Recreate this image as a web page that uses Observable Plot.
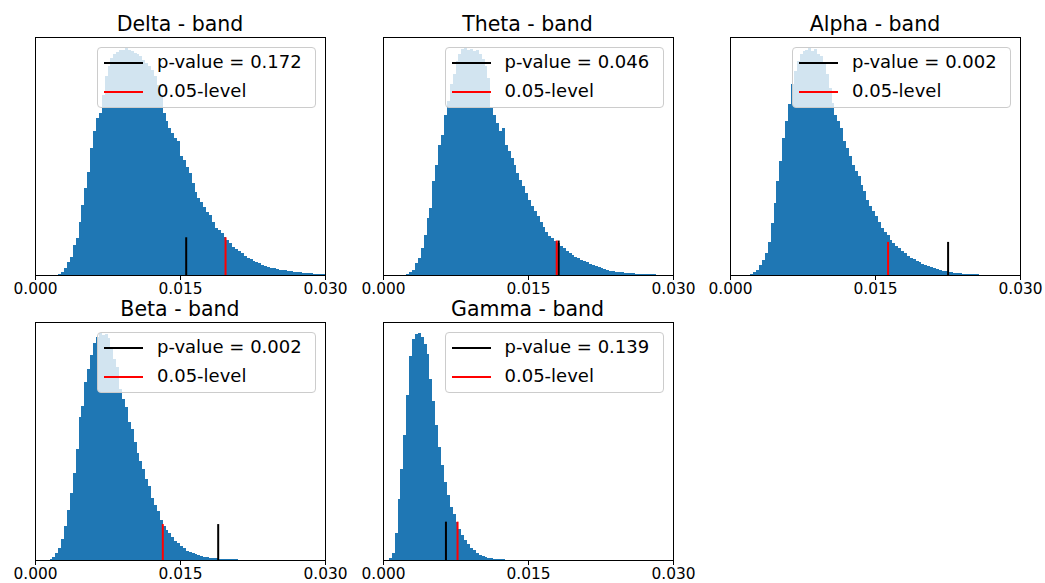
<!DOCTYPE html>
<html><head><meta charset="utf-8">
<script src="https://cdn.jsdelivr.net/npm/d3@7"></script>
<script src="https://cdn.jsdelivr.net/npm/@observablehq/plot@0.6"></script>
<style>
html,body{margin:0;padding:0;background:#fff;}
#chart{position:relative;width:1045px;height:583px;font-family:"DejaVu Sans",sans-serif;overflow:hidden;background:#fff;}
.title{position:absolute;text-align:center;font-size:20.5px;line-height:24px;height:24px;white-space:nowrap;color:#000;}
.legend{position:absolute;box-sizing:border-box;border:1px solid #cccccc;border-radius:4px;background:rgba(255,255,255,0.8);}
.legend .sw{position:absolute;height:2px;}
.legend .lt{position:absolute;font-size:18px;line-height:22px;white-space:nowrap;color:#000;}
svg.panel{position:absolute;overflow:visible;}
</style></head><body><div id="chart"></div>
<script>
// ---- data ----
const binWidth = 0.0003;
const bandNames = ["Delta", "Theta", "Alpha", "Beta", "Gamma"];
const pValues = ["0.172", "0.046", "0.002", "0.002", "0.139"];
const observedValues = [0.01559, 0.01812, 0.02251, 0.0189, 0.00646];
const levelValues = [0.01966, 0.01792, 0.0163, 0.01317, 0.00766];
const lineHeights = [113, 103, 99, 107, 114];
const firstBins = [8, 8, 7, 5, 2];
const deltaCounts = [3,10,22,40,55,90,110,160,210,260,310,380,430,470,485,540,595,625,650,663,667,673,675,679,673,670,665,663,655,645,635,625,615,595,570,535,485,460,440,425,410,400,355,345,325,305,275,250,230,220,205,190,180,160,140,135,125,115,105,97,85,77,73,65,57,52,47,43,39,35,31,28,25,22,20,18,16,15,14,13,11,10,9,8,7,6,5,5,4,4,3,3];
const thetaCounts = [3,8,15,35,50,80,120,170,200,280,330,390,420,480,520,570,600,640,660,675,678,672,675,670,672,660,645,625,590,500,480,455,430,440,390,370,350,330,305,285,265,245,225,205,190,175,160,145,130,118,110,102,95,88,80,72,66,60,55,50,45,42,38,33,30,27,24,20,18,15,13,12,10,9,8,7,6,5,5,4,4,3,3,2,2,2];
const alphaCounts = [3,8,15,30,45,65,100,155,215,280,340,410,460,510,570,610,640,660,670,672,678,670,675,662,655,630,600,560,515,480,460,440,400,380,355,330,310,295,270,250,225,205,190,175,160,140,130,120,105,95,88,80,72,65,58,52,47,42,38,34,30,27,24,20,18,15,13,11,9,8,7,6,5,4,4,3,3,3,2,1];
const betaCounts = [3,8,20,35,62,100,150,200,260,330,425,460,530,570,610,645,665,675,670,672,660,630,600,575,510,480,455,410,390,350,320,295,270,240,220,185,165,145,120,100,90,80,68,58,50,42,35,28,24,20,17,14,12,10,8,7,6,5,4,4,3,3,2,2,2,1,1,1,1,1,1,1,1,1,1,1,1];
const gammaCounts = [5,20,80,180,270,372,492,607,657,672,674,662,642,612,537,472,402,337,282,232,192,157,137,112,92,74,59,47,37,29,22,16,12,9,7,5,4,3,2,2,1,1];
const xTicks = [0, 0.015, 0.03];
const allCounts = [deltaCounts, thetaCounts, alphaCounts, betaCounts, gammaCounts];

// ---- layout ----
const panelLefts = [35, 382.5, 730, 35, 382.5];
const panelTops = [37, 37, 37, 322, 322];
const plotW = 290, plotH = 238;
const mL = 30, mR = 30, mT = 5, mB = 30;
const barColor = "#1f77b4";

const chart = document.getElementById("chart");

allCounts.forEach((counts, p) => {
  const bins = counts.map((c, k) => ({
    x1: (firstBins[p] + k) * binWidth,
    x2: (firstBins[p] + k + 1) * binWidth,
    count: c
  }));
  const ymax = d3.max(counts) * 1.05;
  const lines = [
    {x: observedValues[p], h: lineHeights[p], color: "black"},
    {x: levelValues[p], h: lineHeights[p], color: "red"}
  ];
  const svg = Plot.plot({
    width: plotW + mL + mR,
    height: plotH + mT + mB,
    marginLeft: mL, marginRight: mR, marginTop: mT, marginBottom: mB,
    style: {background: "transparent", overflow: "visible", fontFamily: "DejaVu Sans", color: "black"},
    x: {domain: [0, 0.03], axis: null},
    y: {domain: [0, ymax], axis: null},
    marks: [
      Plot.rectY(bins, {x1: "x1", x2: "x2", y1: 0, y2: "count", fill: barColor, insetLeft: 0, insetRight: 0, shapeRendering: "crispEdges"}),
      Plot.ruleX(lines, {x: "x", y1: 0, y2: "h", stroke: "color", strokeWidth: 2}),
      Plot.frame({stroke: "black", strokeWidth: 1}),
      Plot.axisX({ticks: xTicks, tickFormat: d3.format(".3f"), tickSize: 5, tickPadding: 3, fontSize: 15.4, label: null, stroke: "black"})
    ]
  });
  svg.classList.add("panel");
  svg.style.left = (panelLefts[p] - mL) + "px";
  svg.style.top = (panelTops[p] - mT) + "px";
  svg.style.maxWidth = "none";
  chart.appendChild(svg);

  const t = document.createElement("div");
  t.className = "title";
  t.textContent = bandNames[p] + " - band";
  t.style.left = (panelLefts[p] - 40) + "px";
  t.style.width = (plotW + 80) + "px";
  t.style.top = (panelTops[p] - 25) + "px";
  chart.appendChild(t);

  const lg = document.createElement("div");
  lg.className = "legend";
  const lw = 219, lh = 61;
  lg.style.left = (panelLefts[p] + plotW - 9 - lw) + "px";
  lg.style.top = (panelTops[p] + 10) + "px";
  lg.style.width = lw + "px";
  lg.style.height = lh + "px";
  const entries = [["p-value = " + pValues[p], "black"], ["0.05-level", "red"]];
  entries.forEach(([label, col], r) => {
    const sw = document.createElement("div");
    sw.className = "sw";
    sw.style.left = "6px";
    sw.style.width = "39px";
    sw.style.top = (14 + r * 29) + "px";
    sw.style.background = col;
    lg.appendChild(sw);
    const lt = document.createElement("div");
    lt.className = "lt";
    lt.textContent = label;
    lt.style.left = "59px";
    lt.style.top = (3 + r * 29) + "px";
    lg.appendChild(lt);
  });
  chart.appendChild(lg);
});
</script></body></html>
